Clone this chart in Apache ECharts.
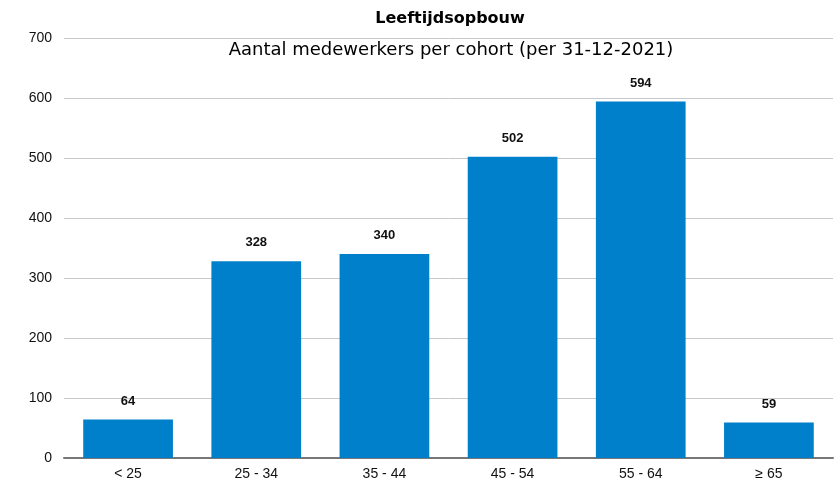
<!DOCTYPE html>
<html>
<head>
<meta charset="utf-8">
<script src="https://cdn.jsdelivr.net/npm/echarts@6/dist/echarts.min.js"></script>
<style>html,body{margin:0;padding:0;background:#fff}#c{width:836px;height:481px}</style>
</head>
<body>
<div id="c"></div>
<script>
var categories = ['< 25', '25 - 34', '35 - 44', '45 - 54', '55 - 64', '≥ 65'];
var values = [64, 328, 340, 502, 594, 59];
var yTicks = [0, 100, 200, 300, 400, 500, 600, 700];

var chart = echarts.init(document.getElementById('c'));
chart.setOption({
  animation: false,
  textStyle: { fontFamily: 'Liberation Sans, Arial, sans-serif' },
  title: [{
    text: 'Leeftijdsopbouw',
    left: 445, top: 6, textAlign: 'center',
    textStyle: { fontSize: 16, fontWeight: 'bold', color: '#000', fontFamily: 'DejaVu Sans' }
  }, {
    text: 'Aantal medewerkers per cohort (per 31-12-2021)',
    left: 446, top: 36, textAlign: 'center',
    textStyle: { fontSize: 18, fontWeight: 'normal', color: '#000', fontFamily: 'DejaVu Sans' }
  }],
  grid: { left: 64, right: 3, top: 38, bottom: 23 },
  xAxis: {
    type: 'category',
    data: categories,
    axisLine: { lineStyle: { color: '#777', width: 2 } },
    axisTick: { show: false },
    axisLabel: { color: '#111', fontSize: 14, margin: 9 }
  },
  yAxis: {
    type: 'value',
    min: yTicks[0], max: yTicks[yTicks.length - 1], interval: 100,
    axisLine: { show: false },
    axisTick: { show: false },
    axisLabel: { color: '#111', fontSize: 14, margin: 12 },
    splitLine: { lineStyle: { color: '#c8c8c8', width: 1 } }
  },
  series: [{
    type: 'bar',
    data: values,
    barCategoryGap: '30%',
    itemStyle: { color: '#0080CB' },
    label: { show: true, position: 'top', distance: 12, fontWeight: 'bold', fontSize: 13, color: '#111' }
  }]
});
</script>
</body>
</html>
